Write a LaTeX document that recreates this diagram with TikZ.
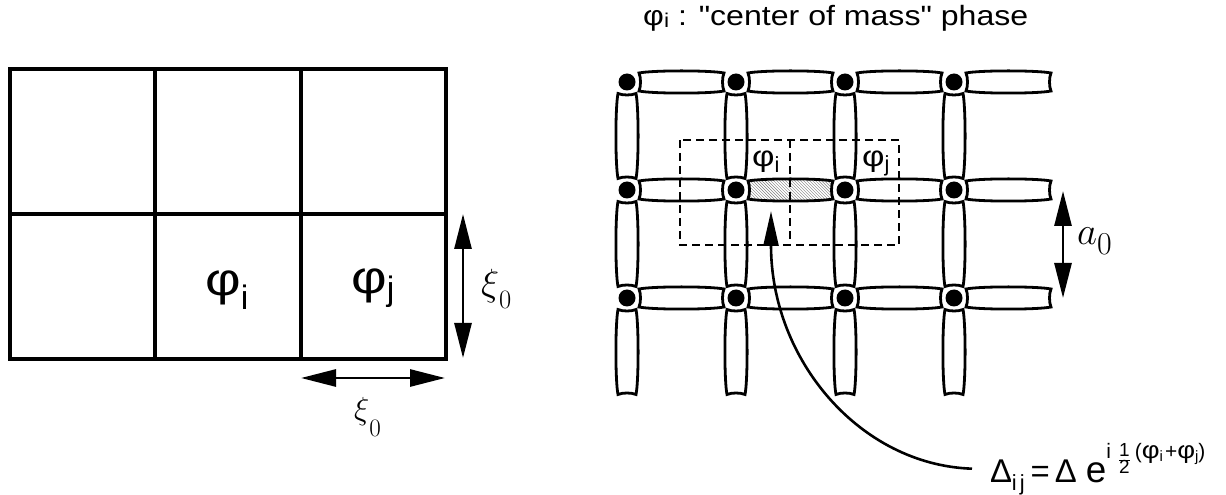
\RequirePackage{fix-cm}
\documentclass[tikz,border=0pt]{standalone}
\usepackage[no-math]{fontspec}
\setmainfont{Liberation Sans}[Ligatures=TeXOff]
\usetikzlibrary{arrows.meta,patterns}
\newcommand{\fs}[1]{\fontsize{#1}{#1}\selectfont}
\begin{document}
\begin{tikzpicture}[x=1bp,y=-1bp,
  cellline/.style={line width=3.2bp},
  bondline/.style={line width=2.8bp},
  dashbox/.style={line width=2.8bp, dash pattern=on 8bp off 5bp},
  bigtip/.tip={Triangle[length=35bp,width=17bp]},
  dimarrow/.style={line width=2.8bp, bigtip-bigtip},
  curvearrow/.style={line width=2.6bp, -{Triangle[length=35bp,width=15bp]}},
  latdot/.style={circle, fill, inner sep=0pt, minimum size=17bp},
  lbl/.style={inner sep=0pt, anchor=base west},
  bond/.pic={\draw[bondline, pic actions] (-42.5,-9) .. controls (-29,-11.8) and (29,-11.8) .. (42.5,-9)
     .. controls (40.5,-4.5) and (40.5,4.5) .. (42.5,9)
     .. controls (29,11.8) and (-29,11.8) .. (-42.5,9)
     .. controls (-40.5,4.5) and (-40.5,-4.5) .. (-42.5,-9) -- cycle;}
]
\useasboundingbox (0,0) rectangle (1226,495);

% ---------- left: cell grid ----------
\draw[cellline] (10,69) rectangle (446,359);
\draw[cellline] (155,69) -- (155,359) (301,69) -- (301,359) (10,214) -- (446,214);
\node[lbl] (phiLi) at (205,296) {\scalebox{1.2}[1]{\fs{46}φ}\raisebox{-14bp}{\fs{34}i}};
\node[lbl] (phiLj) at (351,294) {\scalebox{1.2}[1]{\fs{46}φ}\raisebox{-7bp}{\fs{34}j}};

\coordinate (xvt) at (463,214);
\coordinate (xvb) at (463,358);
\draw[dimarrow] (xvt) -- (xvb);
\node[lbl] (xiv) at (481,296) {\fs{38}$\xi$\raisebox{-13bp}{$\scriptstyle 0$}};

\coordinate (xhl) at (301,378);
\coordinate (xhr) at (445,378);
\draw[dimarrow] (xhl) -- (xhr);
\node[lbl] (xih) at (354,419) {\fs{32}$\xi$\raisebox{-17bp}{\fs{36}$\scriptstyle 0$}};

% ---------- right: lattice ----------
\foreach \i in {0,1,2,3} {
  \foreach \j in {0,1,2} {
    \pgfmathsetmacro{\X}{627+109*\i}
    \pgfmathsetmacro{\Y}{82+108*\j}
    \ifnum\i=1 \ifnum\j=1 \else \pic at (\X+54.5,\Y) {bond}; \fi \else \pic at (\X+54.5,\Y) {bond}; \fi
    \pic[rotate=90] at (\X,\Y+54) {bond};
    \node[latdot] (d\i\j) at (\X,\Y) {};
  }
}
\pic[pattern=north west lines, pattern color=gray] at (790.5,190) {bond};

\draw[dashbox] (680,140) rectangle (899,245);
\draw[dashbox] (790,140) -- (790,245);

\node[lbl] (phiRi) at (752,167) {\scalebox{1.2}[1]{\fs{29}φ}\raisebox{-6bp}{\fs{22}i}};
\node[lbl] (phiRj) at (862,167) {\scalebox{1.2}[1]{\fs{29}φ}\raisebox{-5bp}{\fs{22}j}};

\coordinate (at) at (1063,191);
\coordinate (ab) at (1063,298);
\draw[dimarrow] (at) -- (ab);
\node[lbl] (a0) at (1077,245) {\fs{39}$a$\raisebox{-10bp}{\fs{32}$0$}};

% ---------- title ----------
\node[lbl] (title) at (643,26) {\scalebox{1.15}[1]{\fs{28}φ\raisebox{-2bp}{\fs{20}i} : "center of mass" phase}};

% ---------- formula ----------
\node[lbl, outer sep=18bp] (delta) at (972,482) {\fs{33}Δ\raisebox{-8bp}{\fs{22}i\kern3bp j}\kern6bp=\kern5bpΔ\kern9bp{\fs{37}e}\raisebox{24bp}{\fs{21}i\kern7bp\raisebox{-7bp}{$\hbox{\fs{19}1}\over\hbox{\fs{19}2}$}\kern4bp(\scalebox{1.15}[1]{\fs{24}φ}\raisebox{-3bp}{\fs{15}i}\kern2bp+\scalebox{1.15}[1]{\fs{24}φ}\raisebox{-3bp}{\fs{15}j})}};

\coordinate (tip) at (771,211);
\draw[curvearrow] (delta.west) .. controls (860,465) and (771,360) .. (tip);
\end{tikzpicture}
\end{document}
